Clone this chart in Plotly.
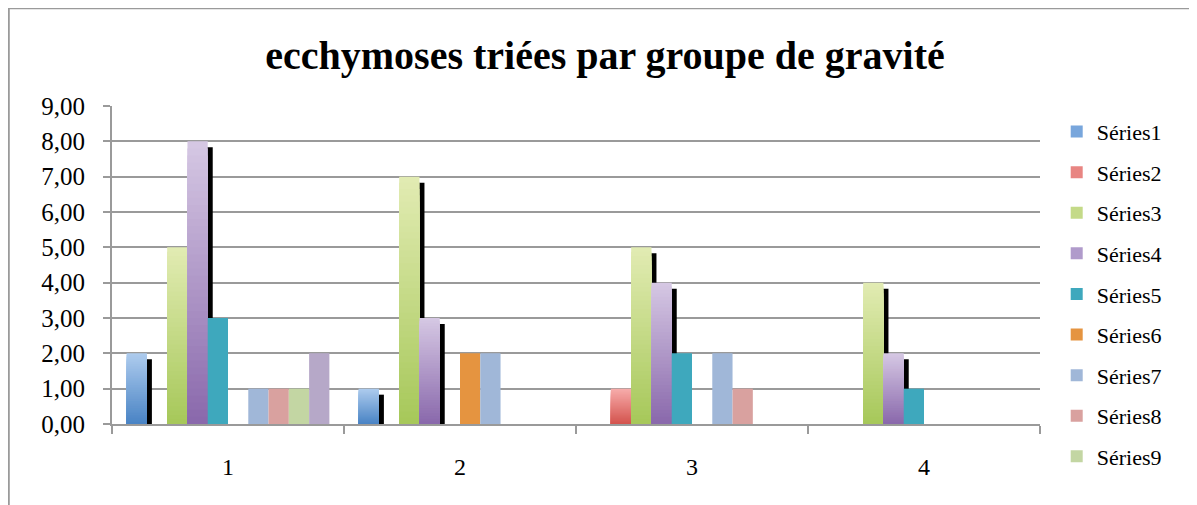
import plotly.graph_objects as go

# ---- data ----
categories = ["1", "2", "3", "4"]
series_names = ["Séries1", "Séries2", "Séries3", "Séries4", "Séries5",
                "Séries6", "Séries7", "Séries8", "Séries9", "Séries10"]
s1 = [2, 1, 0, 0]
s2 = [0, 0, 1, 0]
s3 = [5, 7, 5, 4]
s4 = [8, 3, 4, 2]
s5 = [3, 0, 2, 1]
s6 = [0, 2, 0, 0]
s7 = [1, 2, 2, 0]
s8 = [1, 0, 1, 0]
s9 = [1, 0, 0, 0]
s10 = [2, 0, 0, 0]
series_values = [s1, s2, s3, s4, s5, s6, s7, s8, s9, s10]
y_tick_values = [0, 1, 2, 3, 4, 5, 6, 7, 8, 9]
y_tick_labels = ["0,00", "1,00", "2,00", "3,00", "4,00", "5,00", "6,00", "7,00", "8,00", "9,00"]
title_text = "ecchymoses triées par groupe de gravité"

# ---- styles ----
# (top colour, bottom colour) for gradient series, single colour otherwise
styles = [
    ("#adcbed", "#4a84c5"),
    ("#f7acab", "#d4544e"),
    ("#e1ebb2", "#a7c85a"),
    ("#d5c7e3", "#8a69ac"),
    "#3ea8bd",
    "#e59440",
    "#a0b7d8",
    "#d9a19f",
    "#c3d6a3",
    "#b6a8c8",
]
legend_colors = ["#78a6dc", "#e88582", "#c4da88", "#b09bcb"]
has_shadow = [True, True, True, True, False, False, False, False, False, False]
FONT = "Liberation Serif"
BAR_W = 0.0874
START = -0.437
SHADOW_DX = 0.0216
SHADOW_DY = 0.17
N_LAYERS = 40


def hex_to_rgb(h):
    h = h.lstrip("#")
    return tuple(int(h[i:i + 2], 16) for i in (0, 2, 4))


def mix(c1, c2, t):
    a, b = hex_to_rgb(c1), hex_to_rgb(c2)
    return "rgb(%d,%d,%d)" % tuple(round(a[i] + (b[i] - a[i]) * t) for i in range(3))


fig = go.Figure()

# shadows (drawn first, behind every bar)
for i, vals in enumerate(series_values):
    if not has_shadow[i]:
        continue
    fig.add_trace(go.Bar(
        x=categories,
        y=[max(v - SHADOW_DY, 0) if v > 0 else 0 for v in vals],
        offset=START + i * BAR_W + SHADOW_DX, width=BAR_W,
        marker=dict(color="black", line=dict(width=0)),
        showlegend=False, hoverinfo="skip",
    ))

# bars
for i, vals in enumerate(series_values):
    st = styles[i]
    show = i < 9
    if isinstance(st, tuple):
        top, bottom = st
        for k in range(N_LAYERS):
            frac = (N_LAYERS - k) / N_LAYERS
            t = k / (N_LAYERS - 1)
            fig.add_trace(go.Bar(
                x=categories, y=[v * frac for v in vals],
                offset=START + i * BAR_W, width=BAR_W,
                marker=dict(color=mix(top, bottom, t), line=dict(width=0)),
                name=series_names[i], legendgroup=series_names[i],
                showlegend=False,
                hoverinfo="skip" if k else None,
            ))
        # legend entry
        fig.add_trace(go.Bar(
            x=categories, y=[0 for _ in vals],
            offset=START + i * BAR_W, width=BAR_W,
            marker=dict(color=legend_colors[i], line=dict(width=0)),
            name=series_names[i], legendgroup=series_names[i],
            showlegend=show, hoverinfo="skip",
        ))
    else:
        fig.add_trace(go.Bar(
            x=categories, y=vals,
            offset=START + i * BAR_W, width=BAR_W,
            marker=dict(color=st, line=dict(width=0)),
            name=series_names[i], legendgroup=series_names[i],
            showlegend=show,
        ))

# outer chart frame
fig.add_shape(type="rect", xref="paper", yref="paper",
              x0=-0.1115, x1=1.3, y0=-0.4, y1=1.308,
              line=dict(color="#9a9a9a", width=2.5), fillcolor="rgba(0,0,0,0)",
              layer="below")

fig.update_layout(
    width=1189, height=497,
    barmode="overlay",
    paper_bgcolor="white", plot_bgcolor="white",
    margin=dict(l=104, r=157, t=98, b=81),
    font=dict(family=FONT, color="black"),
    title=dict(text="<b>" + title_text + "</b>", x=597 / 1189, xref="container",
               xanchor="center", y=1 - 47 / 497, yanchor="middle",
               font=dict(family=FONT, size=40, color="black")),
    legend=dict(x=1.018, xanchor="left", y=0.985, yanchor="top",
                font=dict(family=FONT, size=22, color="black"),
                tracegroupgap=9, bgcolor="rgba(0,0,0,0)", maxheight=480),
    xaxis=dict(type="category", range=[-0.5, 3.5], showgrid=False,
               showline=True, linecolor="#9a9a9a", linewidth=2,
               ticks="outside", tickson="boundaries", ticklen=8,
               tickcolor="#9a9a9a", tickwidth=2,
               tickfont=dict(family=FONT, size=24, color="black"),
               ticklabelstandoff=20),
    yaxis=dict(range=[0, 9], tickmode="array", tickvals=y_tick_values,
               ticktext=y_tick_labels, showgrid=True, gridcolor="#9a9a9a",
               gridwidth=2, showline=True, linecolor="#9a9a9a", linewidth=2,
               ticks="outside", ticklen=7, tickcolor="#9a9a9a", tickwidth=2,
               tickfont=dict(family=FONT, size=25, color="black"),
               ticklabelstandoff=13, zeroline=False),
)

fig.write_html("out.html")
